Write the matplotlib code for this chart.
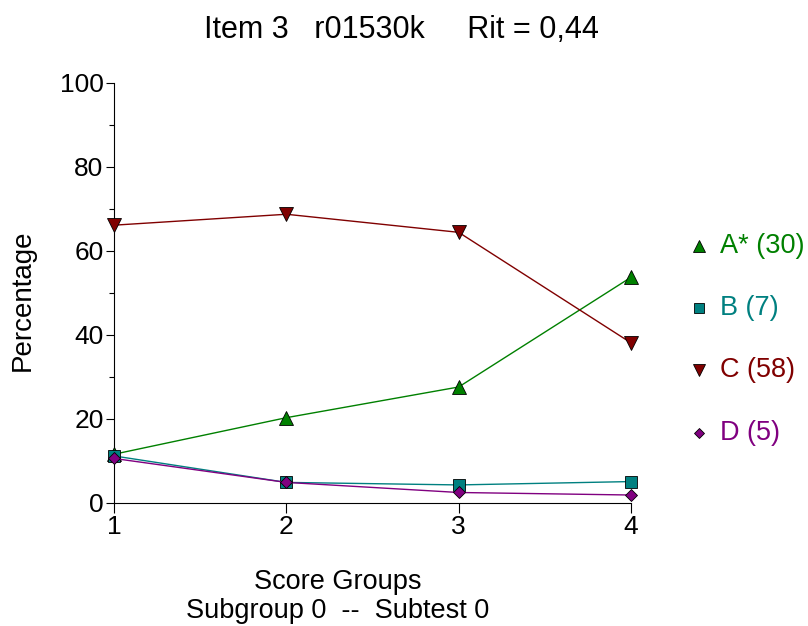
import matplotlib
matplotlib.use("Agg")
import matplotlib.pyplot as plt
from matplotlib.lines import Line2D
from matplotlib.ticker import MultipleLocator

plt.rcParams['font.family'] = ['Liberation Sans', 'DejaVu Sans']

# data
groups = [1, 2, 3, 4]
labels = ["A* (30)", "B (7)", "C (58)", "D (5)"]
a_vals = [11.6, 20.3, 27.6, 53.7]
b_vals = [11.2, 4.9, 4.3, 5.1]
c_vals = [66.1, 68.7, 64.4, 38.1]
d_vals = [10.6, 4.9, 2.5, 1.9]

series = [a_vals, b_vals, c_vals, d_vals]
colors = ['#008000', '#008080', '#800000', '#800080']
markers = ['^', 's', 'v', 'D']
msizes = [9.5, 8.5, 9.5, 6.2]

fig = plt.figure(figsize=(8.08, 6.26), dpi=100)
ax = fig.add_axes([114 / 808, 1 - 503 / 626, (631 - 114) / 808, (503 - 82.7) / 626])

for vals, col, mk, ms in zip(series, colors, markers, msizes):
    ax.plot(groups, vals, color=col, lw=1.0, marker=mk, ms=ms,
            mfc=col, mec='black', mew=0.6, clip_on=False, zorder=3)

ax.set_xlim(1, 4)
ax.set_ylim(0, 100)
ax.set_xticks(groups)
ax.set_yticks([0, 20, 40, 60, 80, 100])
ax.yaxis.set_minor_locator(MultipleLocator(10))
ax.spines['top'].set_visible(False)
ax.spines['right'].set_visible(False)
for s in ['left', 'bottom']:
    ax.spines[s].set_linewidth(0.8)
ax.tick_params(axis='y', which='major', direction='out', length=6,
               width=0.8, labelsize=19, pad=1.5)
ax.tick_params(axis='x', which='major', direction='out', length=7,
               width=0.8, labelsize=19, pad=2)
ax.tick_params(axis='y', which='minor', direction='out', length=3.5, width=0.8)

fig.text(401 / 808, 1 - 30 / 626, "Item 3   r01530k     Rit = 0,44",
         ha='center', va='center', fontsize=22)
fig.text(23 / 808, 1 - 300 / 626, "Percentage", rotation=90,
         ha='center', va='center', fontsize=20)
fig.text(338 / 808, 1 - 582 / 626, "Score Groups",
         ha='center', va='center', fontsize=19.5)
fig.text(338 / 808, 1 - 611 / 626, "Subgroup 0  --  Subtest 0",
         ha='center', va='center', fontsize=19.5)

# legend drawn by hand at the right side
rows = [246, 308, 370, 433]
for lab, col, mk, ms, y in zip(labels, colors, markers, msizes, rows):
    fy = 1 - y / 626
    fig.add_artist(Line2D([699 / 808], [fy], transform=fig.transFigure,
                          marker=mk, ms=ms * 0.9, mfc=col, mec='black',
                          mew=0.6, ls='none'))
    fig.text(720 / 808, fy, lab, color=col, ha='left', va='center',
             fontsize=19.5)

fig.savefig("out.png", dpi=100)
